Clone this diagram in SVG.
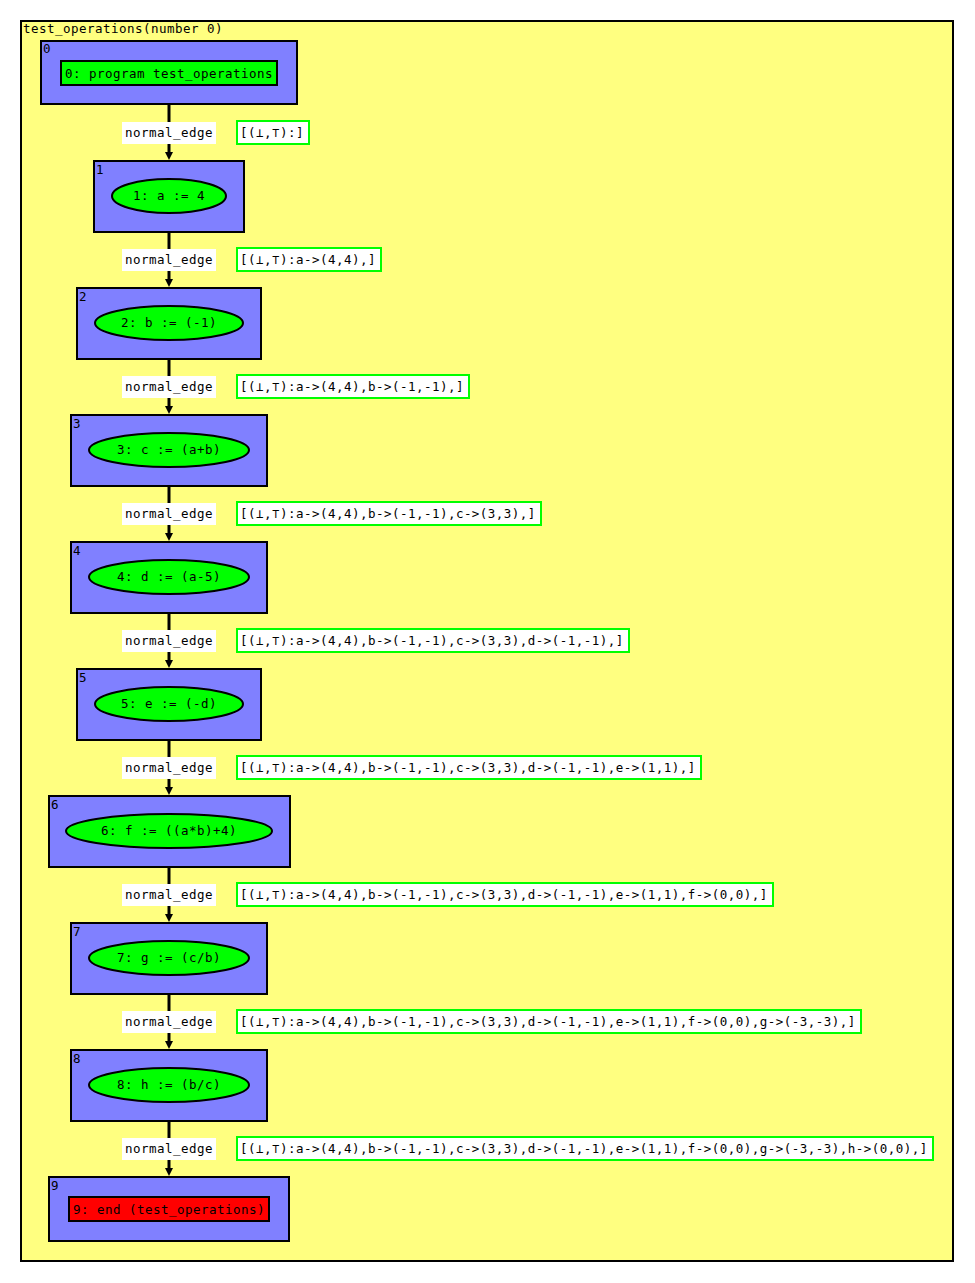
<svg xmlns="http://www.w3.org/2000/svg" width="975" height="1283" viewBox="0 0 975 1283">
<defs>
<style>
text{font-family:"DejaVu Sans Mono","Liberation Mono",monospace;font-size:12.5px;letter-spacing:0.47px;fill:#000}
.frame{fill:#ffff80;stroke:#000;stroke-width:2}
.node{fill:#8080ff;stroke:#000;stroke-width:2}
.ell{fill:#00ff00;stroke:#000;stroke-width:2}
.start{fill:#00ff00;stroke:#000;stroke-width:2}
.end{fill:#ff0000;stroke:#000;stroke-width:2}
.edge{stroke:#000;stroke-width:3;fill:none}
.elab{fill:#fff;stroke:none}
.info{fill:#fff;stroke:#00ff00;stroke-width:2}
</style>
</defs>
<rect x="0" y="0" width="975" height="1283" fill="#fff"/>
<g id="cluster">
<rect class="frame" x="21" y="21" width="932" height="1240"/>
<text x="23" y="33">test_operations(number 0)</text>
</g>
<g id="connectors">
<line class="edge" x1="169" y1="105" x2="169" y2="153"/><path d="M165,152 L173,152 L169,160 z"/>
<line class="edge" x1="169" y1="233" x2="169" y2="280"/><path d="M165,279 L173,279 L169,287 z"/>
<line class="edge" x1="169" y1="360" x2="169" y2="407"/><path d="M165,406 L173,406 L169,414 z"/>
<line class="edge" x1="169" y1="487" x2="169" y2="534"/><path d="M165,533 L173,533 L169,541 z"/>
<line class="edge" x1="169" y1="614" x2="169" y2="661"/><path d="M165,660 L173,660 L169,668 z"/>
<line class="edge" x1="169" y1="741" x2="169" y2="788"/><path d="M165,787 L173,787 L169,795 z"/>
<line class="edge" x1="169" y1="868" x2="169" y2="915"/><path d="M165,914 L173,914 L169,922 z"/>
<line class="edge" x1="169" y1="995" x2="169" y2="1042"/><path d="M165,1041 L173,1041 L169,1049 z"/>
<line class="edge" x1="169" y1="1122" x2="169" y2="1169"/><path d="M165,1168 L173,1168 L169,1176 z"/>
<g id="edge-labels">
<rect class="elab" x="122" y="122" width="94" height="22"/><text x="125" y="137">normal_edge</text>
<rect class="info" x="237" y="121" width="72" height="23"/><text x="240" y="137">[(⊥,⊤):]</text>
<rect class="elab" x="122" y="249" width="94" height="22"/><text x="125" y="264">normal_edge</text>
<rect class="info" x="237" y="248" width="144" height="23"/><text x="240" y="264">[(⊥,⊤):a-&gt;(4,4),]</text>
<rect class="elab" x="122" y="376" width="94" height="22"/><text x="125" y="391">normal_edge</text>
<rect class="info" x="237" y="375" width="232" height="23"/><text x="240" y="391">[(⊥,⊤):a-&gt;(4,4),b-&gt;(-1,-1),]</text>
<rect class="elab" x="122" y="503" width="94" height="22"/><text x="125" y="518">normal_edge</text>
<rect class="info" x="237" y="502" width="304" height="23"/><text x="240" y="518">[(⊥,⊤):a-&gt;(4,4),b-&gt;(-1,-1),c-&gt;(3,3),]</text>
<rect class="elab" x="122" y="630" width="94" height="22"/><text x="125" y="645">normal_edge</text>
<rect class="info" x="237" y="629" width="392" height="23"/><text x="240" y="645">[(⊥,⊤):a-&gt;(4,4),b-&gt;(-1,-1),c-&gt;(3,3),d-&gt;(-1,-1),]</text>
<rect class="elab" x="122" y="757" width="94" height="22"/><text x="125" y="772">normal_edge</text>
<rect class="info" x="237" y="756" width="464" height="23"/><text x="240" y="772">[(⊥,⊤):a-&gt;(4,4),b-&gt;(-1,-1),c-&gt;(3,3),d-&gt;(-1,-1),e-&gt;(1,1),]</text>
<rect class="elab" x="122" y="884" width="94" height="22"/><text x="125" y="899">normal_edge</text>
<rect class="info" x="237" y="883" width="536" height="23"/><text x="240" y="899">[(⊥,⊤):a-&gt;(4,4),b-&gt;(-1,-1),c-&gt;(3,3),d-&gt;(-1,-1),e-&gt;(1,1),f-&gt;(0,0),]</text>
<rect class="elab" x="122" y="1011" width="94" height="22"/><text x="125" y="1026">normal_edge</text>
<rect class="info" x="237" y="1010" width="624" height="23"/><text x="240" y="1026">[(⊥,⊤):a-&gt;(4,4),b-&gt;(-1,-1),c-&gt;(3,3),d-&gt;(-1,-1),e-&gt;(1,1),f-&gt;(0,0),g-&gt;(-3,-3),]</text>
<rect class="elab" x="122" y="1138" width="94" height="22"/><text x="125" y="1153">normal_edge</text>
<rect class="info" x="237" y="1137" width="696" height="23"/><text x="240" y="1153">[(⊥,⊤):a-&gt;(4,4),b-&gt;(-1,-1),c-&gt;(3,3),d-&gt;(-1,-1),e-&gt;(1,1),f-&gt;(0,0),g-&gt;(-3,-3),h-&gt;(0,0),]</text>
</g>
</g>
<g id="node0">
<rect class="node" x="41" y="41" width="256" height="63"/>
<text x="43" y="53">0</text>
<rect class="start" x="61" y="61" width="216" height="24"/>
<text x="65" y="78">0: program test_operations</text>
</g>
<g id="node1">
<rect class="node" x="94" y="161" width="150" height="71"/>
<text x="96" y="174">1</text>
<ellipse class="ell" cx="169" cy="196" rx="57" ry="17"/>
<text x="133" y="200">1: a := 4</text>
</g>
<g id="node2">
<rect class="node" x="77" y="288" width="184" height="71"/>
<text x="79" y="301">2</text>
<ellipse class="ell" cx="169" cy="323" rx="74" ry="17"/>
<text x="121" y="327">2: b := (-1)</text>
</g>
<g id="node3">
<rect class="node" x="71" y="415" width="196" height="71"/>
<text x="73" y="428">3</text>
<ellipse class="ell" cx="169" cy="450" rx="80" ry="17"/>
<text x="117" y="454">3: c := (a+b)</text>
</g>
<g id="node4">
<rect class="node" x="71" y="542" width="196" height="71"/>
<text x="73" y="555">4</text>
<ellipse class="ell" cx="169" cy="577" rx="80" ry="17"/>
<text x="117" y="581">4: d := (a-5)</text>
</g>
<g id="node5">
<rect class="node" x="77" y="669" width="184" height="71"/>
<text x="79" y="682">5</text>
<ellipse class="ell" cx="169" cy="704" rx="74" ry="17"/>
<text x="121" y="708">5: e := (-d)</text>
</g>
<g id="node6">
<rect class="node" x="49" y="796" width="241" height="71"/>
<text x="51" y="809">6</text>
<ellipse class="ell" cx="169" cy="831" rx="103" ry="17"/>
<text x="101" y="835">6: f := ((a*b)+4)</text>
</g>
<g id="node7">
<rect class="node" x="71" y="923" width="196" height="71"/>
<text x="73" y="936">7</text>
<ellipse class="ell" cx="169" cy="958" rx="80" ry="17"/>
<text x="117" y="962">7: g := (c/b)</text>
</g>
<g id="node8">
<rect class="node" x="71" y="1050" width="196" height="71"/>
<text x="73" y="1063">8</text>
<ellipse class="ell" cx="169" cy="1085" rx="80" ry="17"/>
<text x="117" y="1089">8: h := (b/c)</text>
</g>
<g id="node9">
<rect class="node" x="49" y="1177" width="240" height="64"/>
<text x="51" y="1190">9</text>
<rect class="end" x="69" y="1197" width="200" height="24"/>
<text x="73" y="1214">9: end (test_operations)</text>
</g>
</svg>
